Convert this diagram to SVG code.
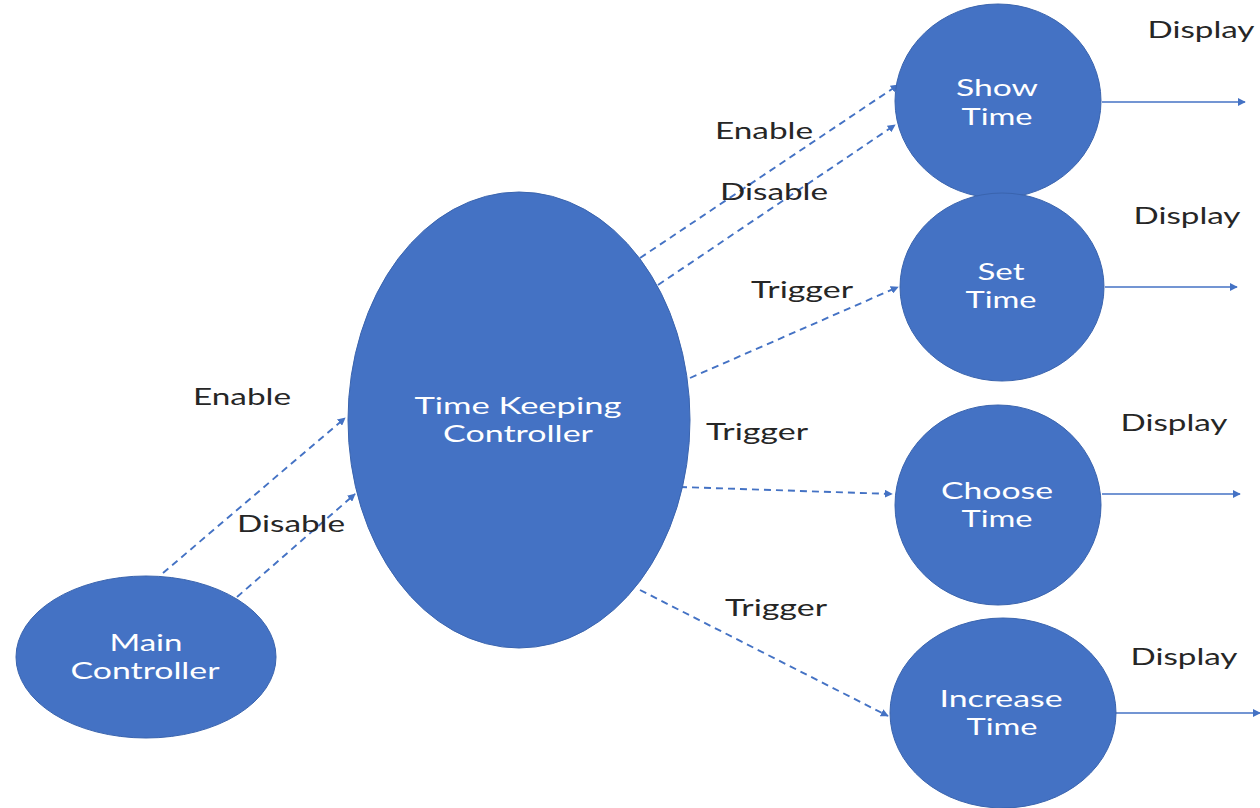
<svg xmlns="http://www.w3.org/2000/svg" width="1260" height="808" viewBox="0 0 1260 808">
  <defs>
    <marker id="arrow" viewBox="0 0 10 10" refX="9" refY="5" markerWidth="8" markerHeight="8" markerUnits="userSpaceOnUse" orient="auto">
      <path d="M0,0 L10,5 L0,10 Z" fill="#4472C4"/>
    </marker>
    <style>
      .node { fill: #4472C4; stroke: #3A64AE; stroke-width: 1; }
      .ntext { font-family: Lato, "Noto Sans", sans-serif; font-size: 24px; fill: #FFFFFF; text-anchor: middle; }
      .label { font-family: Lato, "Noto Sans", sans-serif; font-size: 24px; fill: #262626; text-anchor: middle; }
      .dash { stroke: #4472C4; stroke-width: 1.9; stroke-dasharray: 7 5; fill: none; marker-end: url(#arrow); }
      .solid { stroke: #4472C4; stroke-width: 1.6; fill: none; marker-end: url(#arrow); }
    </style>
  </defs>
  <rect width="1260" height="808" fill="#FFFFFF"/>

  <!-- connectors -->
  <g id="connectors">
    <line class="dash" x1="163" y1="573" x2="345" y2="418"/>
    <line class="dash" x1="237" y1="597" x2="355" y2="494"/>
    <line class="dash" x1="640" y1="258" x2="898" y2="85"/>
    <line class="dash" x1="658" y1="285" x2="895" y2="125"/>
    <line class="dash" x1="690" y1="378" x2="898" y2="287"/>
    <line class="dash" x1="680" y1="487" x2="892" y2="494"/>
    <line class="dash" x1="640" y1="590" x2="888" y2="716"/>
    <line class="solid" x1="1102" y1="102" x2="1245" y2="102"/>
    <line class="solid" x1="1105" y1="287" x2="1237" y2="287"/>
    <line class="solid" x1="1102" y1="494" x2="1240" y2="494"/>
    <line class="solid" x1="1116" y1="713" x2="1260" y2="713"/>
  </g>

  <!-- connector labels -->
  <g id="labels">
    <text class="label" x="1201" y="38" textLength="107" lengthAdjust="spacingAndGlyphs">Display</text>
    <text class="label" x="764" y="139" textLength="98" lengthAdjust="spacingAndGlyphs">Enable</text>
    <text class="label" x="774" y="200" textLength="108" lengthAdjust="spacingAndGlyphs">Disable</text>
    <text class="label" x="1187" y="224" textLength="107" lengthAdjust="spacingAndGlyphs">Display</text>
    <text class="label" x="802" y="298" textLength="102" lengthAdjust="spacingAndGlyphs">Trigger</text>
    <text class="label" x="242" y="405" textLength="98" lengthAdjust="spacingAndGlyphs">Enable</text>
    <text class="label" x="757" y="440" textLength="102" lengthAdjust="spacingAndGlyphs">Trigger</text>
    <text class="label" x="1174" y="431" textLength="107" lengthAdjust="spacingAndGlyphs">Display</text>
    <text class="label" x="291" y="532" textLength="108" lengthAdjust="spacingAndGlyphs">Disable</text>
    <text class="label" x="776" y="616" textLength="102" lengthAdjust="spacingAndGlyphs">Trigger</text>
    <text class="label" x="1184" y="665" textLength="107" lengthAdjust="spacingAndGlyphs">Display</text>
  </g>

  <!-- nodes -->
  <g id="main-controller">
    <ellipse class="node" cx="146" cy="657" rx="130" ry="81"/>
    <text class="ntext" x="146" y="651" textLength="73" lengthAdjust="spacingAndGlyphs">Main</text>
    <text class="ntext" x="145" y="679" textLength="149" lengthAdjust="spacingAndGlyphs">Controller</text>
  </g>
  <g id="time-keeping-controller">
    <ellipse class="node" cx="519" cy="420" rx="171" ry="228"/>
    <text class="ntext" x="518" y="414" textLength="207" lengthAdjust="spacingAndGlyphs">Time Keeping</text>
    <text class="ntext" x="518" y="442" textLength="150" lengthAdjust="spacingAndGlyphs">Controller</text>
  </g>
  <g id="show-time">
    <ellipse class="node" cx="998" cy="101" rx="103" ry="97"/>
    <text class="ntext" x="997" y="96" textLength="82" lengthAdjust="spacingAndGlyphs">Show</text>
    <text class="ntext" x="997" y="125" textLength="71" lengthAdjust="spacingAndGlyphs">Time</text>
  </g>
  <g id="set-time">
    <ellipse class="node" cx="1002" cy="287" rx="102" ry="94"/>
    <text class="ntext" x="1001" y="280" textLength="47" lengthAdjust="spacingAndGlyphs">Set</text>
    <text class="ntext" x="1001" y="308" textLength="71" lengthAdjust="spacingAndGlyphs">Time</text>
  </g>
  <g id="choose-time">
    <ellipse class="node" cx="998" cy="505" rx="103" ry="100"/>
    <text class="ntext" x="997" y="499" textLength="112" lengthAdjust="spacingAndGlyphs">Choose</text>
    <text class="ntext" x="997" y="527" textLength="71" lengthAdjust="spacingAndGlyphs">Time</text>
  </g>
  <g id="increase-time">
    <ellipse class="node" cx="1003" cy="713" rx="113" ry="95"/>
    <text class="ntext" x="1001" y="707" textLength="123" lengthAdjust="spacingAndGlyphs">Increase</text>
    <text class="ntext" x="1002" y="735" textLength="71" lengthAdjust="spacingAndGlyphs">Time</text>
  </g>
</svg>
